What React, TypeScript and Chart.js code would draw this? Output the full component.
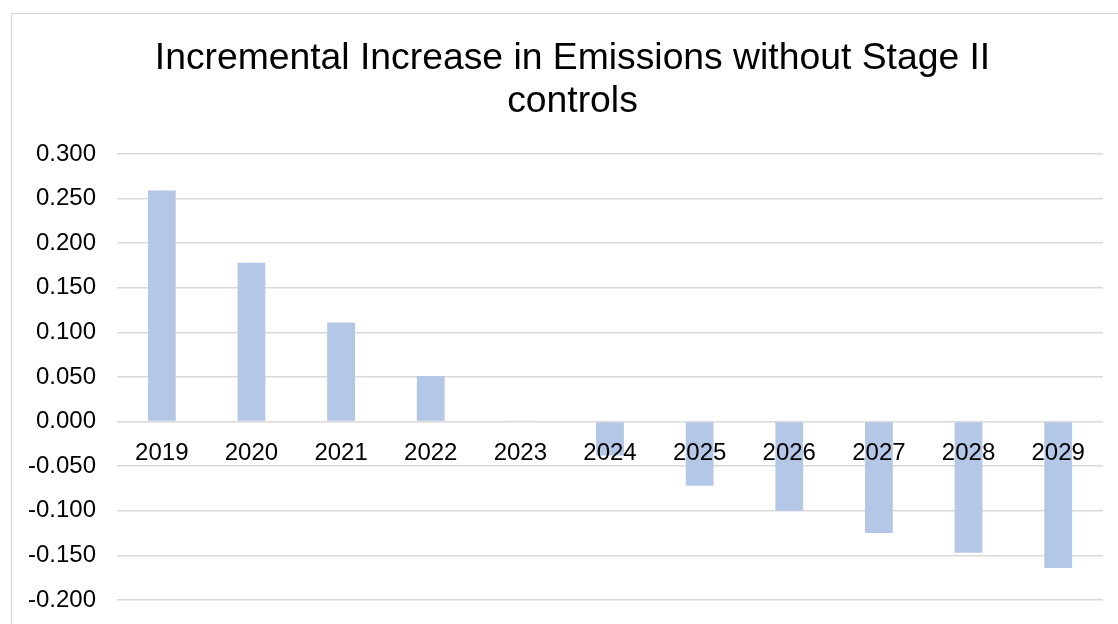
import React, { useEffect, useRef } from "react";
import { Chart, registerables } from "chart.js";

Chart.register(...registerables);

const titleLines = ["Incremental Increase in Emissions without Stage II", "controls"];
const years = ["2019", "2020", "2021", "2022", "2023", "2024", "2025", "2026", "2027", "2028", "2029"];
const increments = [0.259, 0.178, 0.111, 0.051, 0.001, -0.038, -0.072, -0.1, -0.125, -0.147, -0.164];
const yMin = -0.2;
const yMax = 0.3;
const yStep = 0.05;

const FONT = "Arial, 'Liberation Sans', sans-serif";

const framePlugin = {
  id: "frameAndTitle",
  beforeDraw(chart: any) {
    const ctx = chart.ctx;
    ctx.save();
    ctx.fillStyle = "#ffffff";
    ctx.fillRect(0, 0, chart.width, chart.height);
    ctx.strokeStyle = "#d9d9d9";
    ctx.lineWidth = 1.3;
    ctx.strokeRect(11.5, 13.5, 1200, 800);
    ctx.restore();
  },
  afterDraw(chart: any) {
    const ctx = chart.ctx;
    ctx.save();
    ctx.fillStyle = "#000000";
    ctx.font = `37.3px ${FONT}`;
    ctx.textAlign = "center";
    ctx.textBaseline = "middle";
    titleLines.forEach((line, i) => {
      ctx.fillText(line, 572.5, 59 + i * 43);
    });
    ctx.restore();
  },
};

export default function App() {
  const ref = useRef<HTMLCanvasElement | null>(null);

  useEffect(() => {
    if (!ref.current) return;
    const chart = new Chart(ref.current, {
      type: "bar",
      data: {
        labels: years,
        datasets: [
          {
            data: increments,
            backgroundColor: "#b4c7e7",
            borderWidth: 0,
            barPercentage: 0.31,
            categoryPercentage: 1,
          },
        ],
      },
      options: {
        animation: false,
        responsive: false,
        maintainAspectRatio: false,
        layout: { padding: { left: 0, top: 154, right: 15, bottom: 24 } },
        plugins: {
          legend: { display: false },
          title: { display: false },
          tooltip: { enabled: false },
        },
        scales: {
          x: {
            position: { y: 0 } as any,
            grid: { display: false, drawTicks: false },
            border: { display: false },
            ticks: {
              z: 1,
              color: "#000000",
              font: { family: FONT, size: 24 },
              padding: 17,
              maxRotation: 0,
              autoSkip: false,
            },
          },
          y: {
            min: yMin,
            max: yMax,
            afterFit: (scale: any) => {
              scale.width = 117;
              scale.paddingTop = 0;
              scale.paddingBottom = 0;
            },
            grid: { color: "#d9d9d9", lineWidth: 1.5, drawTicks: false },
            border: { display: false },
            ticks: {
              stepSize: yStep,
              color: "#000000",
              font: { family: FONT, size: 24 },
              padding: 21,
              callback: (v: any) => Number(v).toFixed(3),
            },
          },
        },
      },
      plugins: [framePlugin],
    });
    return () => chart.destroy();
  }, []);

  return (
    <div style={{ position: "fixed", left: 0, top: 0, width: 1118, height: 624, background: "#fff" }}>
      <canvas ref={ref} width={1118} height={624} style={{ display: "block" }} />
    </div>
  );
}
